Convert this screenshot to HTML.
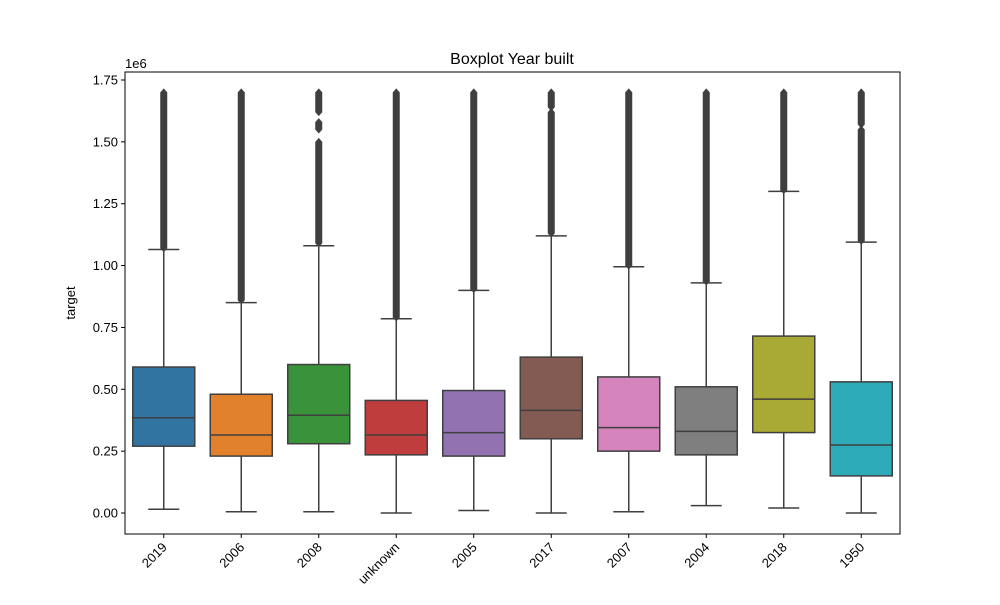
<!DOCTYPE html>
<html><head><meta charset="utf-8"><style>
body{margin:0;background:#fff}
svg text{font-family:"Liberation Sans","DejaVu Sans",sans-serif;fill:#000}
</style></head><body>
<svg id="chart" width="1000" height="600" xmlns="http://www.w3.org/2000/svg">
<rect width="1000" height="600" fill="#fff"/>
<g id="plot"></g>
<rect x="125" y="72" width="775" height="462" fill="none" stroke="#000" stroke-width="1"/>
<text x="512" y="64" font-size="16" text-anchor="middle">Boxplot Year built</text>
<text x="125" y="68" font-size="13">1e6</text>
<text x="0" y="0" font-size="13" text-anchor="middle" transform="translate(75,303) rotate(-90)">target</text>
</svg>
<script>
const categories=["2019","2006","2008","unknown","2005","2017","2007","2004","2018","1950"];
const whisLo=[0.015,0.005,0.005,0.0,0.01,0.0,0.005,0.03,0.02,0.0];
const q1=[0.27,0.23,0.28,0.235,0.23,0.30,0.25,0.235,0.325,0.15];
const medians=[0.385,0.315,0.395,0.315,0.325,0.415,0.345,0.33,0.46,0.275];
const q3=[0.59,0.48,0.60,0.455,0.495,0.63,0.55,0.51,0.715,0.53];
const whisHi=[1.065,0.85,1.08,0.785,0.90,1.12,0.995,0.93,1.30,1.095];
const outlierRuns=[[[1.07,1.70]],[[0.86,1.70]],[[1.09,1.50],[1.55,1.58],[1.62,1.70]],[[0.79,1.70]],[[0.905,1.70]],[[1.13,1.62],[1.64,1.70]],[[1.0,1.70]],[[0.935,1.70]],[[1.305,1.70]],[[1.10,1.55],[1.57,1.70]]];
const yTicks=[0,0.25,0.5,0.75,1.0,1.25,1.5,1.75];
const yTickLabels=["0.00","0.25","0.50","0.75","1.00","1.25","1.50","1.75"];
const colors=["#3274a1","#e1812c","#3a923a","#c03d3e","#9372b2","#845b53","#d684bd","#7f7f7f","#a9aa35","#2eabb8"];
const NS="http://www.w3.org/2000/svg";
const X0=125,W=775,Y0=513,Y175=80;
const y=v=>Y0-(Y0-Y175)*v/1.75;
const band=W/categories.length;
const xc=i=>X0+band*(i+0.5);
const g=document.getElementById('plot');
const svg=document.getElementById('chart');
function mk(t,a,p){const e=document.createElementNS(NS,t);for(const k in a)e.setAttribute(k,a[k]);(p||g).appendChild(e);return e;}
yTicks.forEach((v,i)=>{
  const t=mk('line',{x1:X0-4,x2:X0,y1:y(v),y2:y(v),stroke:'#000'},svg);
  
  
  const l=mk('text',{x:X0-7,y:y(v)+4.5,'font-size':13,'text-anchor':'end'},svg);
  
  
  l.textContent=yTickLabels[i];
});
const bw=band*0.8,cap=bw/2,ln='#3f3f3f';
categories.forEach((c,i)=>{
  const x=xc(i);
  const grp=mk('g',{});
  
  
  mk('line',{x1:x,x2:x,y1:y(whisLo[i]),y2:y(q1[i]),stroke:ln,'stroke-width':1.5},grp);
  mk('line',{x1:x,x2:x,y1:y(q3[i]),y2:y(whisHi[i]),stroke:ln,'stroke-width':1.5},grp);
  mk('line',{x1:x-cap/2,x2:x+cap/2,y1:y(whisLo[i]),y2:y(whisLo[i]),stroke:ln,'stroke-width':1.5},grp);
  mk('line',{x1:x-cap/2,x2:x+cap/2,y1:y(whisHi[i]),y2:y(whisHi[i]),stroke:ln,'stroke-width':1.5},grp);
  mk('rect',{x:x-bw/2,y:y(q3[i]),width:bw,height:y(q1[i])-y(q3[i]),fill:colors[i],stroke:ln,'stroke-width':1.5},grp);
  mk('line',{x1:x-bw/2,x2:x+bw/2,y1:y(medians[i]),y2:y(medians[i]),stroke:ln,'stroke-width':1.5},grp);
  outlierRuns[i].forEach(r=>{
    const o=mk('path',{d:`M${x},${y(r[1])-4} L${x+3.5},${y(r[1])} L${x+3.5},${y(r[0])} L${x},${y(r[0])+4} L${x-3.5},${y(r[0])} L${x-3.5},${y(r[1])} Z`,fill:ln},grp);
    
    
  });
  const t=mk('line',{x1:x,x2:x,y1:534,y2:538,stroke:'#000'},svg);
  
  
  const l=mk('text',{x:0,y:0,'font-size':13,'text-anchor':'end',transform:`translate(${x+4},${548}) rotate(-45)`},svg);
  
  
  l.textContent=c;
});
</script>
</body></html>
